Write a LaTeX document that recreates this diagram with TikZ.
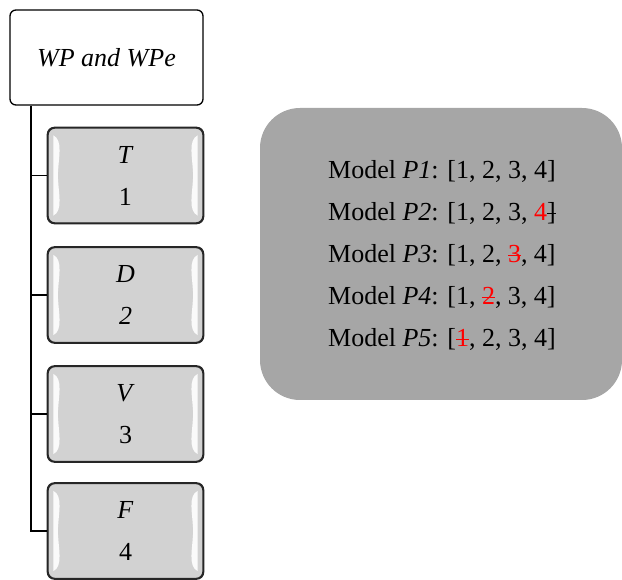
\documentclass[tikz,border=0pt]{standalone}
\usepackage{fontspec}
\setmainfont{Liberation Serif}
\usetikzlibrary{calc}
\definecolor{boxgray}{HTML}{D2D2D2}
\definecolor{panelgray}{HTML}{A6A6A6}
\definecolor{strikered}{HTML}{FF0000}
% struck-through text: rule drawn in the current colour
\newcommand\strk[1]{\setbox0\hbox{#1}\rlap{\rule[0.5ex]{\wd0}{0.08ex}}\box0}
\newcommand\redstrk[1]{{\color{strikered}\strk{#1}}}
\begin{document}
\begin{tikzpicture}[x=1pt,y=-1pt,
  rootbox/.style={draw=black,line width=1.3pt,fill=white,rounded corners=6pt,
    minimum width=193pt,minimum height=95pt,inner sep=0pt,font=\fontsize{26}{30}\selectfont\itshape},
  itembox/.style={draw=black!85,line width=1.3pt,fill=boxgray,rounded corners=7pt,
    minimum width=155pt,minimum height=95pt,inner sep=0pt,align=center,
    font=\fontsize{26}{42}\selectfont},
  branch/.style={line width=1.5pt,black},
  gloss/.style={fill=white,opacity=0.9,draw=none},
  panel/.style={fill=panelgray,draw=none,rounded corners=40pt},
  paneltext/.style={anchor=west,inner sep=0pt,font=\fontsize{26}{30}\selectfont}]
\useasboundingbox (0,0) rectangle (622,580);

% root and the trunk line
\node[rootbox] (root) at (106.5,57.5) {WP and WPe};

\node[itembox] (t) at (125.5,175.5) {\textit{T}\\1};
\node[itembox] (d) at (125.5,295)   {\textit{D}\\\textit{2}};
\node[itembox] (v) at (125.5,414)   {\textit{V}\\3};
\node[itembox] (f) at (125.5,531)   {\textit{F}\\4};

% glossy highlights on the item boxes
\foreach \n in {t,d,v,f}{
  \path ([xshift=6pt,yshift=-8pt]\n.north west) coordinate (a)
        ([xshift=6pt,yshift=8pt]\n.south west) coordinate (b);
  \fill[gloss] (a) .. controls ([xshift=10pt,yshift=-5pt]a) and ([xshift=5pt,yshift=-22pt]a) .. ([xshift=4.5pt]$(a)!0.5!(b)$)
     .. controls ([xshift=5pt,yshift=22pt]b) and ([xshift=10pt,yshift=5pt]b) .. (b) -- cycle;
  \path ([xshift=-6pt,yshift=-8pt]\n.north east) coordinate (a)
        ([xshift=-6pt,yshift=8pt]\n.south east) coordinate (b);
  \fill[gloss] (a) .. controls ([xshift=-10pt,yshift=-5pt]a) and ([xshift=-5pt,yshift=-22pt]a) .. ([xshift=-4.5pt]$(a)!0.5!(b)$)
     .. controls ([xshift=-5pt,yshift=22pt]b) and ([xshift=-10pt,yshift=5pt]b) .. (b) -- cycle;
}
% redraw outlines above the highlights
\foreach \n in {t,d,v,f}{
  \draw[draw=black!85,line width=1.3pt,rounded corners=7pt] (\n.north west) rectangle (\n.south east);
}

\coordinate (trunk) at ([xshift=-75.5pt]root.south);
\draw[branch] (trunk) |- (f.west);
\draw[branch] (trunk |- t.west) -- (t.west);
\draw[branch] (trunk |- d.west) -- (d.west);
\draw[branch] (trunk |- v.west) -- (v.west);

% model panel
\fill[panel] (260,108) rectangle (622,400);
\node[paneltext] (p1) at (328,171) {Model \textit{P1}: [1, 2, 3, 4]};
\node[paneltext] (p2) at (328,213) {Model \textit{P2}: [1, 2, 3, {\color{strikered}4}\strk{]}};
\node[paneltext] (p3) at (328,255) {Model \textit{P3}: [1, 2, \redstrk{3}, 4]};
\node[paneltext] (p4) at (328,297) {Model \textit{P4}: [1, \redstrk{2}, 3, 4]};
\node[paneltext] (p5) at (328,339) {Model \textit{P5}: [\redstrk{1}, 2, 3, 4]};
\end{tikzpicture}
\end{document}
